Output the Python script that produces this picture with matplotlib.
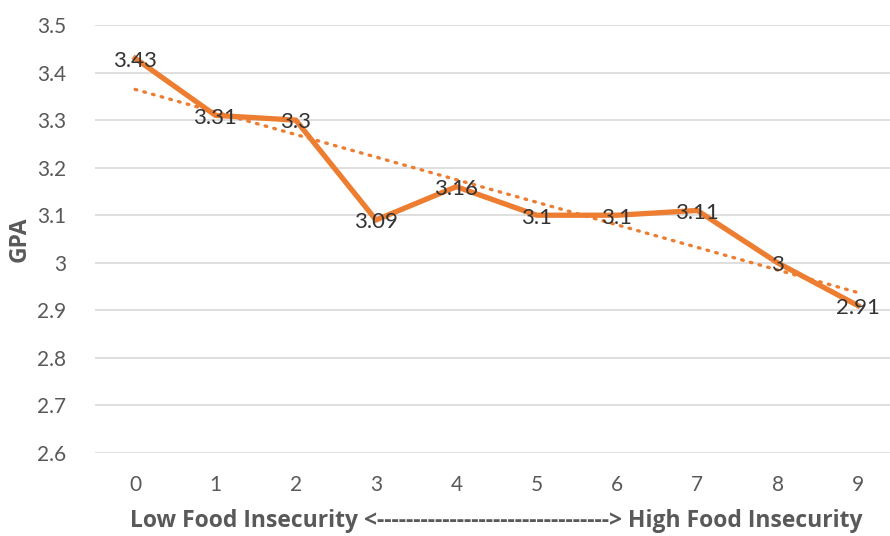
import numpy as np
import matplotlib.pyplot as plt

plt.rcParams['font.family'] = ['Lato', 'DejaVu Sans']

# food insecurity score vs mean GPA
scores = [0, 1, 2, 3, 4, 5, 6, 7, 8, 9]
gpa = [3.43, 3.31, 3.3, 3.09, 3.16, 3.1, 3.1, 3.11, 3.0, 2.91]
y_ticks = [2.6, 2.7, 2.8, 2.9, 3.0, 3.1, 3.2, 3.3, 3.4, 3.5]
y_tick_labels = ['2.6', '2.7', '2.8', '2.9', '3', '3.1', '3.2', '3.3', '3.4', '3.5']
point_labels = ['3.43', '3.31', '3.3', '3.09', '3.16', '3.1', '3.1', '3.11', '3', '2.91']

fig = plt.figure(figsize=(8.9, 5.36), dpi=100)
ax = fig.add_axes([95 / 890, 83 / 536, 803 / 890, 428 / 536])

orange = '#ED7D31'

# linear trendline, like the spreadsheet one
slope, icpt = np.polyfit(scores, gpa, 1)
x = np.array(scores)
ax.plot(x, slope * x + icpt, color=orange, lw=2.4, ls=(0, (0.5, 2.2)),
        dash_capstyle='round', zorder=2)

ax.plot(scores, gpa, color=orange, lw=3.8, solid_joinstyle='miter', zorder=3)

for xs, ys, lab in zip(scores, gpa, point_labels):
    ax.text(xs, ys - 0.005, lab, ha='center', va='center', fontsize=16,
            color='#333333', zorder=4)

ax.set_xlim(-0.5, 9.5)
ax.set_ylim(2.6, 3.5)
ax.set_xticks(scores)
ax.set_yticks(y_ticks)
ax.set_yticklabels(y_tick_labels)
ax.tick_params(axis='both', length=0, labelsize=15, labelcolor='#595959')
ax.tick_params(axis='x', pad=16)
ax.tick_params(axis='y', pad=21)
ax.grid(axis='y', color='#D9D9D9', lw=1.2)
ax.set_axisbelow(True)
for s in ax.spines.values():
    s.set_visible(False)

ax.set_ylabel('GPA', fontsize=16.5, fontweight='bold', color='#595959',
              labelpad=4, family=['Open Sans', 'DejaVu Sans'])
ax.set_xlabel('Low Food Insecurity <' + '-' * 32 + '> High Food Insecurity',
              fontsize=16.5, fontweight='bold', color='#595959', labelpad=10,
              family=['Open Sans', 'DejaVu Sans'])

fig.savefig('out.png', dpi=100)
